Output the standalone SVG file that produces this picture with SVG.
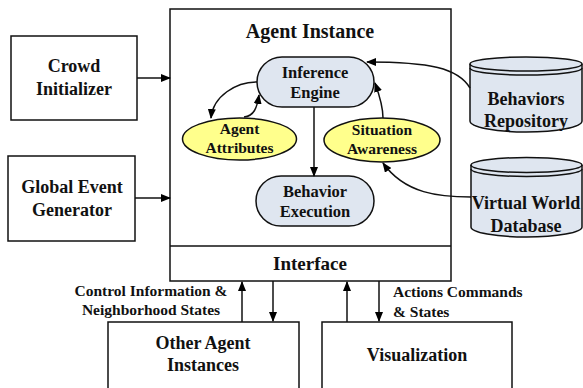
<svg xmlns="http://www.w3.org/2000/svg" width="583" height="388" viewBox="0 0 583 388">
<defs>
<marker id="ah" markerWidth="10" markerHeight="8" refX="9" refY="4" orient="auto" markerUnits="userSpaceOnUse">
<path d="M0,0 L10,4 L0,8 Z" fill="#000"/>
</marker>
<style>
.tx{fill:#111;text-anchor:middle;font-family:'Liberation Serif',serif !important;font-weight:bold}
.box{fill:#fff;stroke:#111;stroke-width:1.5}
.rnd{fill:#dfe6f0;stroke:#111;stroke-width:1.5}
.ell{fill:#ffff8c;stroke:#111;stroke-width:1.5}
.cyl{fill:#dfe6f0;stroke:#111;stroke-width:1.5}
.cyl2{fill:none;stroke:#111;stroke-width:1.5}
.con{fill:none;stroke:#111;stroke-width:1.5;marker-end:url(#ah)}
</style>
</defs>
<rect width="583" height="388" fill="#fff"/>

<g id="agent-instance">
<rect class="box" x="170" y="9" width="281" height="272"/>
<line x1="170" y1="246" x2="451" y2="246" stroke="#111" stroke-width="1.5"/>
<text class="tx" x="310" y="38" style="font-family:'Liberation Serif',serif;font-size:20px">Agent Instance</text>
</g>
<g id="interface">
<text class="tx" x="310" y="270" style="font-family:'Liberation Serif',serif;font-size:19px">Interface</text>
</g>

<g id="crowd-initializer">
<rect class="box" x="11" y="36" width="126" height="84"/>
<text class="tx" x="74" y="72" style="font-family:'Liberation Serif',serif;font-size:18px">Crowd</text>
<text class="tx" x="74" y="95" style="font-family:'Liberation Serif',serif;font-size:18px">Initializer</text>
</g>

<g id="global-event-generator">
<rect class="box" x="8" y="156" width="127" height="85"/>
<text class="tx" x="72" y="193" style="font-family:'Liberation Serif',serif;font-size:18px">Global Event</text>
<text class="tx" x="72" y="216" style="font-family:'Liberation Serif',serif;font-size:18px">Generator</text>
</g>

<g id="inference-engine">
<rect class="rnd" x="257" y="57" width="117" height="50" rx="25" ry="25"/>
<text class="tx" x="315" y="78" style="font-family:'Liberation Serif',serif;font-size:16.5px">Inference</text>
<text class="tx" x="315" y="98" style="font-family:'Liberation Serif',serif;font-size:16.5px">Engine</text>
</g>

<g id="agent-attributes">
<ellipse class="ell" cx="239.5" cy="139" rx="57" ry="21"/>
<text class="tx" x="239.5" y="134" style="font-family:'Liberation Serif',serif;font-size:15.5px">Agent</text>
<text class="tx" x="239.5" y="153" style="font-family:'Liberation Serif',serif;font-size:15.5px">Attributes</text>
</g>

<g id="situation-awareness">
<ellipse class="ell" cx="382" cy="140" rx="58" ry="22"/>
<text class="tx" x="382" y="135" style="font-family:'Liberation Serif',serif;font-size:15.5px">Situation</text>
<text class="tx" x="382" y="154" style="font-family:'Liberation Serif',serif;font-size:15.5px">Awareness</text>
</g>

<g id="behavior-execution">
<rect class="rnd" x="256" y="176" width="118" height="50" rx="25" ry="25"/>
<text class="tx" x="315" y="197" style="font-family:'Liberation Serif',serif;font-size:16.5px">Behavior</text>
<text class="tx" x="315" y="217" style="font-family:'Liberation Serif',serif;font-size:16.5px">Execution</text>
</g>

<g id="behaviors-repository">
<path class="cyl" d="M470,64 A56,7 0 0 1 582,64 L582,121 A56,11 0 0 1 470,121 Z"/>
<path class="cyl2" d="M470,64 A56,7 0 0 0 582,64"/>
<path class="cyl2" d="M470,68 A56,7 0 0 0 582,68"/>
<text class="tx" x="526" y="105" style="font-family:'Liberation Serif',serif;font-size:18px">Behaviors</text>
<text class="tx" x="526" y="127" style="font-family:'Liberation Serif',serif;font-size:18px">Repository</text>
</g>

<g id="virtual-world-database">
<path class="cyl" d="M471,165 A55.5,7.5 0 0 1 582,165 L582,227 A55.5,10 0 0 1 471,227 Z"/>
<path class="cyl2" d="M471,165 A55.5,7.5 0 0 0 582,165"/>
<path class="cyl2" d="M471,169 A55.5,7.5 0 0 0 582,169"/>
<text class="tx" x="526" y="209" style="font-family:'Liberation Serif',serif;font-size:18px">Virtual World</text>
<text class="tx" x="526" y="232" style="font-family:'Liberation Serif',serif;font-size:18px">Database</text>
</g>

<g id="other-agent-instances">
<rect class="box" x="108" y="322" width="191" height="80"/>
<text class="tx" x="203" y="349" style="font-family:'Liberation Serif',serif;font-size:18px">Other Agent</text>
<text class="tx" x="203" y="371" style="font-family:'Liberation Serif',serif;font-size:18px">Instances</text>
</g>

<g id="visualization">
<rect class="box" x="322" y="322" width="190" height="80"/>
<text class="tx" x="417" y="361" style="font-family:'Liberation Serif',serif;font-size:18px">Visualization</text>
</g>

<g id="connectors">
<line class="con" x1="137" y1="78" x2="170" y2="78"/>
<line class="con" x1="135" y1="198" x2="170" y2="198"/>
<path class="con" d="M257,82 C236,82 213,96 211,118"/>
<path class="con" d="M244,117 C254,116 257,108 259,95"/>
<line class="con" x1="314" y1="107" x2="314" y2="176"/>
<path class="con" d="M383,118 C383,106 379,94 375,83"/>
<path class="con" d="M470,88 C458,68 430,62 367,62"/>
<path class="con" d="M471,197 C440,197 405,194 383,163"/>
<line class="con" x1="242" y1="322" x2="242" y2="282"/>
<line class="con" x1="273" y1="281" x2="273" y2="321"/>
<line class="con" x1="347" y1="322" x2="347" y2="282"/>
<line class="con" x1="379" y1="281" x2="379" y2="321"/>
<text class="tx" x="151" y="296" style="font-family:'Liberation Serif',serif;font-size:15.5px">Control Information &amp;</text>
<text class="tx" x="151" y="315" style="font-family:'Liberation Serif',serif;font-size:15.5px">Neighborhood States</text>
<text class="tx" x="393" y="297" style="font-family:'Liberation Serif',serif;font-size:15.5px;text-anchor:start">Actions Commands</text>
<text class="tx" x="393" y="317" style="font-family:'Liberation Serif',serif;font-size:15.5px;text-anchor:start">&amp; States</text>
</g>
</svg>
